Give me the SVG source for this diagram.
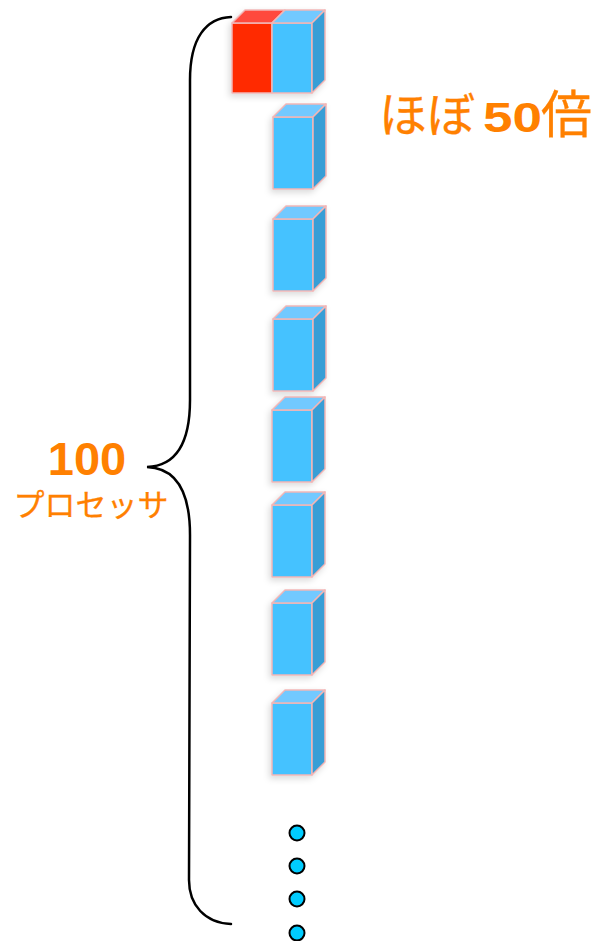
<svg xmlns="http://www.w3.org/2000/svg" width="596" height="941" viewBox="0 0 596 941">
<style>
.edge{stroke:#F2B6B6;stroke-width:1.5;stroke-linejoin:round}
.bf{fill:#45C2FF}
.bt{fill:#72C9FF}
.bs{fill:#399ED6}
.rf{fill:#FF2A00}
.rt{fill:#FF4A3E}
.lbl{fill:#FF8000;font-family:"Liberation Sans","Noto Sans CJK JP",sans-serif}
.jp{fill:#FF8000;font-family:"Noto Sans CJK JP",sans-serif;font-weight:normal;stroke:#FF8000;stroke-width:0.3}
.dot{fill:#00CCFF;stroke:#000;stroke-width:2}
</style>
<defs>
<filter id="sh" x="-30%" y="-30%" width="160%" height="160%">
<feDropShadow dx="-2" dy="3" stdDeviation="3" flood-color="#000" flood-opacity="0.14"/>
</filter>
<g id="box">
<rect class="bf edge" x="0" y="0" width="40" height="72"/>
<polygon class="bt edge" points="0,0 13,-13 53,-13 40,0"/>
<polygon class="bs edge" points="40,0 53,-13 53,59 40,72"/>
</g>
</defs>
<rect width="596" height="941" fill="#fff"/>
<g id="connectors">
<path d="M 231 17 C 206 18 190 38 190 80 L 190 400 C 190 445 175 466 147 467 C 175 468 190 490 190 535 L 189 880 C 189 905 205 923 231 924" fill="none" stroke="#000" stroke-width="2.5" stroke-linecap="round"/>
</g>
<g id="pair" filter="url(#sh)">
<rect class="rf edge" x="232" y="23" width="40" height="70"/>
<polygon class="rt edge" points="232,23 245,10 285,10 272,23"/>
<rect class="bf edge" x="272" y="23" width="40" height="70"/>
<polygon class="bt edge" points="272,23 285,10 325,10 312,23"/>
<polygon class="bs edge" points="312,23 325,10 325,80 312,93"/>
</g>
<g id="box2" filter="url(#sh)"><use href="#box" x="273" y="117"/></g>
<g id="box3" filter="url(#sh)"><use href="#box" x="273" y="219"/></g>
<g id="box4" filter="url(#sh)"><use href="#box" x="273" y="319"/></g>
<g id="box5" filter="url(#sh)"><use href="#box" x="272" y="410"/></g>
<g id="box6" filter="url(#sh)"><use href="#box" x="272" y="505"/></g>
<g id="box7" filter="url(#sh)"><use href="#box" x="272" y="603"/></g>
<g id="box8" filter="url(#sh)"><use href="#box" x="272" y="703"/></g>
<g id="dots">
<circle class="dot" cx="297" cy="833" r="7.5"/>
<circle class="dot" cx="297" cy="866" r="7.5"/>
<circle class="dot" cx="297" cy="899" r="7.5"/>
<circle class="dot" cx="297" cy="933" r="7.5"/>
</g>
<g id="label-100">
<text class="lbl" x="87" y="475" font-size="47" font-weight="bold" text-anchor="middle">100</text>
<text class="jp" x="91" y="516" font-size="31" text-anchor="middle">プロセッサ</text>
</g>
<g id="label-50">
<text class="jp" x="379" y="132" font-size="48">ほぼ</text>
<text class="lbl" x="483" y="132" font-size="42" font-weight="bold" textLength="59" lengthAdjust="spacingAndGlyphs">50</text>
<text class="jp" x="541" y="133" font-size="51">倍</text>
</g>
</svg>
